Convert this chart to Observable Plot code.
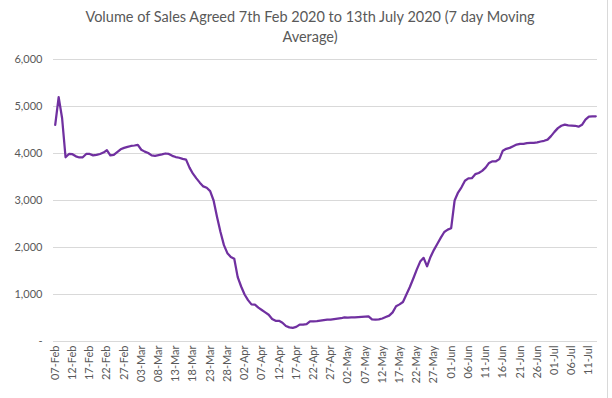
<!DOCTYPE html>
<html>
<head>
<meta charset="utf-8">
<script src="https://cdn.jsdelivr.net/npm/d3@7"></script>
<script src="https://cdn.jsdelivr.net/npm/@observablehq/plot@0.6"></script>
<style>
  html, body { margin: 0; padding: 0; background: #fff; }
  #chart { position: relative; width: 612px; height: 398px; overflow: hidden; font-family: Lato, "Open Sans", sans-serif; }
  #title { box-sizing: border-box; height: 50px; padding-top: 7px; text-align: center; color: #595959; font-size: 14.5px; line-height: 20px; padding-left: 8px; }
  #edge { position: absolute; left: 607px; top: 0; width: 1px; height: 398px; background: #d9d9d9; }
</style>
</head>
<body>
<div id="chart">
  <div id="title">Volume of Sales Agreed 7th Feb 2020 to 13th July 2020 (7 day Moving<br>Average)</div>
  <div id="edge"></div>
</div>
<script>
// first day of the series (daily values follow)
const startDate = "2020-02-07";
// 7-day moving average of sales agreed, one value per day 07-Feb .. 13-Jul
const salesAgreed = [
  4610, 5200, 4750, 3920, 3990, 3985, 3940, 3915, 3920, 3990,
  3990, 3960, 3970, 3990, 4020, 4070, 3960, 3970, 4030, 4090,
  4120, 4140, 4160, 4170, 4185, 4080, 4040, 4010, 3960, 3950,
  3965, 3980, 4000, 3990, 3950, 3925, 3910, 3885, 3870, 3700,
  3570, 3470, 3380, 3300, 3270, 3200, 3000, 2650, 2330, 2050,
  1880, 1800, 1760, 1370, 1170, 1000, 880, 790, 785, 720,
  670, 620, 570, 480, 440, 440, 400, 330, 300, 290,
  310, 360, 360, 370, 430, 430, 435, 445, 455, 465,
  465, 475, 485, 495, 515, 510, 515, 515, 520, 525,
  530, 535, 470, 465, 470, 490, 520, 550, 620, 750,
  790, 840, 1000, 1160, 1340, 1530, 1700, 1780, 1600, 1800,
  1950, 2080, 2210, 2330, 2380, 2410, 3000, 3170, 3280, 3420,
  3470, 3475, 3560, 3585, 3630, 3700, 3800, 3835, 3835, 3880,
  4060, 4100, 4120, 4155, 4190, 4205, 4205, 4220, 4225, 4225,
  4235, 4255, 4270, 4295, 4370, 4460, 4540, 4590, 4615, 4600,
  4595, 4590, 4570, 4610, 4720, 4785, 4790, 4790
];
// y-axis tick values
const yTicks = [0, 1000, 2000, 3000, 4000, 5000, 6000];
// x-axis tick labels (every 5 days)
const xTickLabels = ["07-Feb","12-Feb","17-Feb","22-Feb","27-Feb","03-Mar","08-Mar","13-Mar","18-Mar","23-Mar","28-Mar",
  "02-Apr","07-Apr","12-Apr","17-Apr","22-Apr","27-Apr","02-May","07-May","12-May","17-May","22-May","27-May",
  "01-Jun","06-Jun","11-Jun","16-Jun","21-Jun","26-Jun","01-Jul","06-Jul","11-Jul"];

const start = new Date(startDate + "T00:00:00Z");
const data = salesAgreed.map((v, i) => ({date: d3.utcDay.offset(start, i), value: v}));
const parseTick = d3.utcParse("%d-%b-%Y");
const xTicks = xTickLabels.map(s => parseTick(s + "-2020"));
const last = data[data.length - 1].date;
const fmtX = d3.utcFormat("%d-%b");
const fmtY = d => d === 0 ? "-" : d3.format(",")(d);

const chart = Plot.plot({
  width: 612,
  height: 348,
  marginLeft: 53,
  marginRight: 15,
  marginTop: 9,
  marginBottom: 57,
  style: {fontFamily: "Lato, 'Open Sans', sans-serif", fontSize: "11px", color: "#595959", background: "transparent"},
  x: {type: "utc", domain: [new Date(start.getTime() - 12 * 3600e3), new Date(last.getTime() + 12 * 3600e3)]},
  y: {domain: [0, 6000]},
  marks: [
    Plot.gridY(yTicks, {stroke: "#d9d9d9", strokeOpacity: 1, strokeWidth: 1}),
    Plot.axisY({ticks: yTicks, tickSize: 0, tickPadding: 11, tickFormat: fmtY, fill: "#595959", label: null}),
    Plot.axisX({ticks: xTicks, tickSize: 0, tickPadding: 4, tickRotate: -90, tickFormat: fmtX, fill: "#595959", label: null}),
    Plot.lineY(data, {x: "date", y: "value", stroke: "#7030A0", strokeWidth: 2.25, strokeLinejoin: "round"})
  ]
});
document.getElementById("chart").insertBefore(chart, document.getElementById("edge"));
</script>
</body>
</html>
